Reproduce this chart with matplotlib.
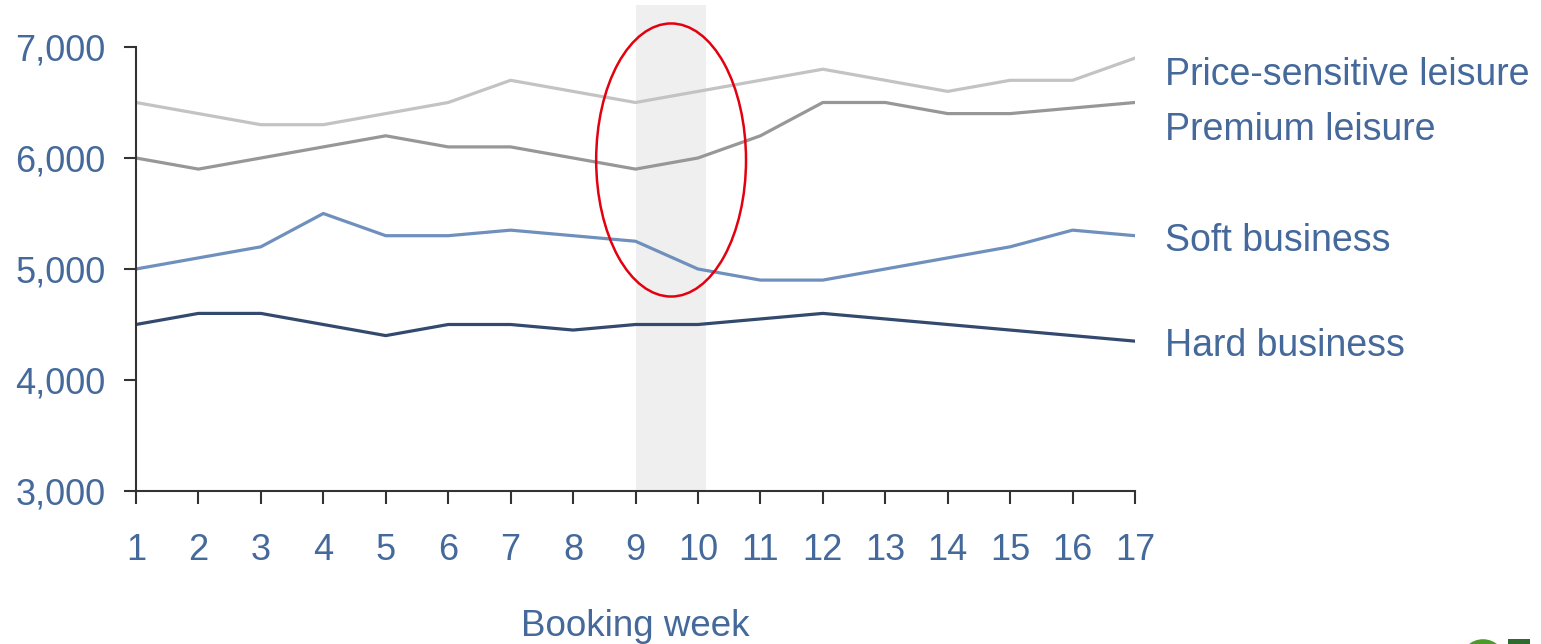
import matplotlib
matplotlib.use("Agg")
import matplotlib.pyplot as plt
from matplotlib.patches import Ellipse, Rectangle, Circle

weeks = list(range(1, 18))
price_sensitive = [6500, 6400, 6300, 6300, 6400, 6500, 6700, 6600, 6500,
                   6600, 6700, 6800, 6700, 6600, 6700, 6700, 6900]
premium = [6000, 5900, 6000, 6100, 6200, 6100, 6100, 6000, 5900,
           6000, 6200, 6500, 6500, 6400, 6400, 6450, 6500]
soft_business = [5000, 5100, 5200, 5500, 5300, 5300, 5350, 5300, 5250,
                 5000, 4900, 4900, 5000, 5100, 5200, 5350, 5300]
hard_business = [4500, 4600, 4600, 4500, 4400, 4500, 4500, 4450, 4500,
                 4500, 4550, 4600, 4550, 4500, 4450, 4400, 4350]

series = [
    ("Price-sensitive leisure", price_sensitive, "#c3c3c3", 6750),
    ("Premium leisure", premium, "#979797", 6255),
    ("Soft business", soft_business, "#6f90bd", 5255),
    ("Hard business", hard_business, "#33496d", 4310),
]
yticks = [3000, 4000, 5000, 6000, 7000]
txt = "#44699a"

plt.rcParams["font.family"] = ["Liberation Sans", "DejaVu Sans"]

fig = plt.figure(figsize=(15.41, 6.44), dpi=100)
ax = fig.add_axes([136 / 1541, 1 - 491 / 644, 999 / 1541, 444 / 644])

# grey highlight band for weeks 9-10, runs above the plot top
ax.add_patch(Rectangle((9.0, 3000), 1.13, 4380, facecolor="#efefef",
                       edgecolor="none", clip_on=False, zorder=0))

for name, vals, col, ylab in series:
    ax.plot(weeks, vals, color=col, lw=2.3, zorder=2)
    ax.text(17.48, ylab, name, color=txt, fontsize=27, va="center", ha="left")

ax.add_patch(Ellipse((9.57, 5982), 2.40, 2460, facecolor="none",
                     edgecolor="#e3000f", lw=1.8, clip_on=False, zorder=3))

ax.set_xlim(1, 17)
ax.set_ylim(3000, 7000)
ax.set_xticks(weeks)
ax.set_yticks(yticks)
ax.set_yticklabels([f"{v:,}" for v in yticks])
for s in ("top", "right"):
    ax.spines[s].set_visible(False)
for s in ("left", "bottom"):
    ax.spines[s].set_color("#333333")
    ax.spines[s].set_linewidth(1.5)
ax.tick_params(axis="both", colors="#333333", labelcolor=txt, labelsize=26,
               width=1.5, length=9)
ax.tick_params(axis="x", pad=21)
ax.tick_params(axis="y", pad=13)
ax.set_xlabel("Booking week", color=txt, fontsize=26.5)
ax.xaxis.set_label_coords(0.5, -0.265)

# partial logo in the bottom right corner
fig.patches.append(Circle((14.83, -0.18), 0.2, transform=fig.dpi_scale_trans,
                          facecolor="#5b9bd5", edgecolor="#4c9a2a", lw=4))
fig.patches.append(Rectangle((15.08, 0), 0.22, 0.05,
                             transform=fig.dpi_scale_trans,
                             facecolor="#2e6b2e", edgecolor="none"))

fig.savefig("out.png", dpi=100)
